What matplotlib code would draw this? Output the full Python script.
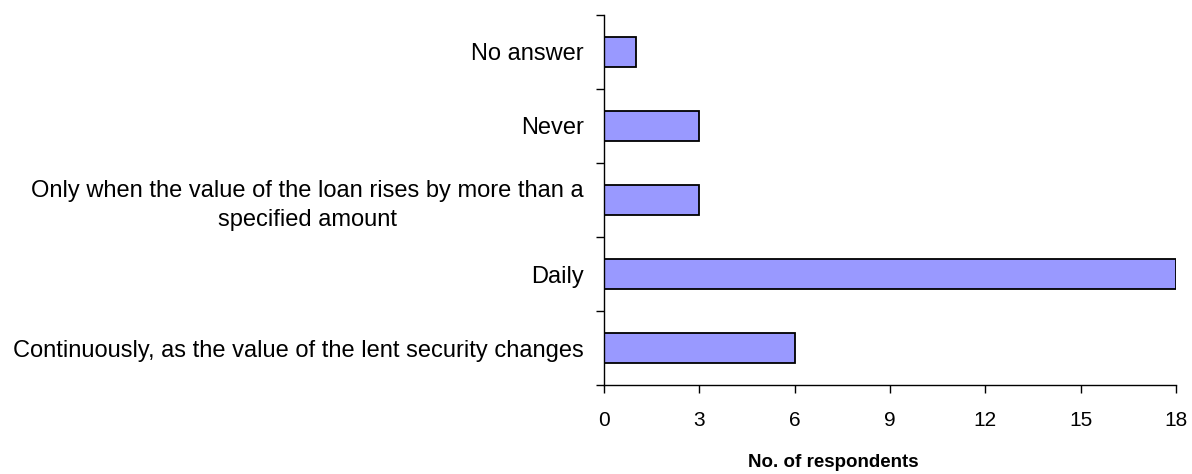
import matplotlib
matplotlib.use("Agg")
import matplotlib.pyplot as plt
import numpy as np

plt.rcParams['font.family'] = ['Liberation Sans', 'DejaVu Sans']

categories = [
    "Continuously, as the value of the lent security changes",
    "Daily",
    "Only when the value of the loan rises by more than a\nspecified amount",
    "Never",
    "No answer",
]
values = [6, 18, 3, 3, 1]
xticks = [0, 3, 6, 9, 12, 15, 18]

fig = plt.figure(figsize=(11.92, 4.74), dpi=100)
ax = fig.add_axes([604/1192, 1 - 385/474, (1176 - 604)/1192, (385 - 15)/474])

y = np.arange(len(categories))
ax.barh(y, values, height=0.4, color="#9999FF", edgecolor="black", linewidth=1.3)

ax.set_xlim(0, 18)
ax.set_ylim(-0.5, len(categories) - 0.5)
ax.set_xticks(xticks)
ax.set_xticklabels([str(t) for t in xticks], fontsize=15)

ax.set_yticks(y)
ax.set_yticklabels(categories, fontsize=17, multialignment="center", linespacing=1.4)
ax.tick_params(axis="y", length=0, pad=14.5)
ax.set_yticks(np.arange(len(categories) + 1) - 0.5, minor=True)
ax.tick_params(axis="y", which="minor", length=6, width=1, direction="out")
ax.tick_params(axis="x", length=6, width=1, direction="out", pad=13)

for s in ["top", "right"]:
    ax.spines[s].set_visible(False)
ax.spines["left"].set_linewidth(1)
ax.spines["bottom"].set_linewidth(1)

ax.set_xlabel("No. of respondents", fontsize=13.5, fontweight="bold", labelpad=17)
ax.xaxis.label.set_x((833 - 604) / 572)

fig.savefig("out.png", dpi=100)
